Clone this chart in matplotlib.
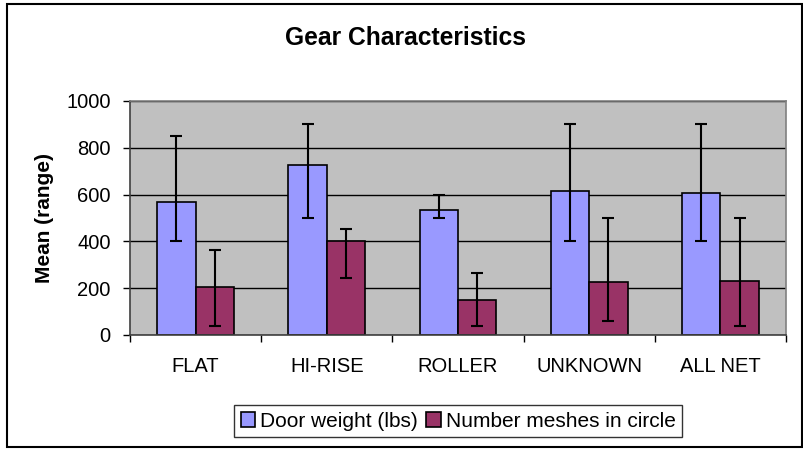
import numpy as np
import matplotlib
matplotlib.use('Agg')
import matplotlib.pyplot as plt
from matplotlib.patches import Rectangle

plt.rcParams['font.family'] = ['Liberation Sans', 'DejaVu Sans']

categories = ['FLAT', 'HI-RISE', 'ROLLER', 'UNKNOWN', 'ALL NET']
door_mean = [568, 725, 534, 617, 608]
door_low = [400, 500, 500, 400, 400]
door_high = [850, 900, 600, 900, 900]
mesh_mean = [204, 403, 150, 225, 232]
mesh_low = [40, 245, 40, 60, 40]
mesh_high = [362, 452, 266, 500, 500]

fig = plt.figure(figsize=(8.04, 4.5), dpi=100)
ax = fig.add_axes([0.1617, 0.2556, 0.8159, 0.52])
ax.set_facecolor('#C0C0C0')

x = np.arange(len(categories))
w = 0.292

door_err = [np.array(door_mean) - np.array(door_low), np.array(door_high) - np.array(door_mean)]
mesh_err = [np.array(mesh_mean) - np.array(mesh_low), np.array(mesh_high) - np.array(mesh_mean)]

ax.yaxis.grid(True, color='black', linewidth=1)
ax.set_axisbelow(True)

ax.bar(x - w/2, door_mean, w, color='#9999FF', edgecolor='black', linewidth=1.2,
       label='Door weight (lbs)', zorder=2)
ax.bar(x + w/2, mesh_mean, w, color='#993366', edgecolor='black', linewidth=1.2,
       label='Number meshes in circle', zorder=2)
ax.errorbar(x - w/2, door_mean, yerr=door_err, fmt='none', ecolor='black',
            elinewidth=1.5, capsize=4.6, capthick=1.5, zorder=3)
ax.errorbar(x + w/2, mesh_mean, yerr=mesh_err, fmt='none', ecolor='black',
            elinewidth=1.5, capsize=4.6, capthick=1.5, zorder=3)

ax.set_xlim(-0.5, len(categories) - 0.5)
ax.set_ylim(0, 1000)
ax.set_yticks(range(0, 1001, 200))
ax.set_xticks(x)
ax.set_xticklabels(categories)
ax.set_xticks(np.arange(-0.5, len(categories), 1), minor=True)
ax.tick_params(axis='x', which='major', length=0, pad=16, labelsize=14.5)
ax.tick_params(axis='x', which='minor', length=5, width=1, direction='out')
ax.tick_params(axis='y', length=5, width=1, direction='out', pad=9, labelsize=14.5)

for s in ['top', 'right']:
    ax.spines[s].set_color('#808080')
    ax.spines[s].set_linewidth(1.2)
for s in ['left', 'bottom']:
    ax.spines[s].set_color('#404040')
    ax.spines[s].set_linewidth(1.2)

ax.set_ylabel('Mean (range)', fontsize=15, fontweight='bold', labelpad=9)
fig.text(0.504, 0.915, 'Gear Characteristics', ha='center', va='center',
         fontsize=17.7, fontweight='bold')

leg = fig.legend(loc='center', bbox_to_anchor=(0.57, 0.064), ncol=2, fontsize=15,
                 frameon=True, fancybox=False, edgecolor='black', handlelength=0.7,
                 handleheight=0.7, handletextpad=0.25, columnspacing=0.4,
                 borderpad=0.3, borderaxespad=0)
leg.get_frame().set_linewidth(1)

fig.patches.append(Rectangle((7/804, 3/450), 795/804, 443/450, transform=fig.transFigure,
                             fill=False, edgecolor='black', linewidth=1.5))

fig.savefig('out.png', dpi=100)
